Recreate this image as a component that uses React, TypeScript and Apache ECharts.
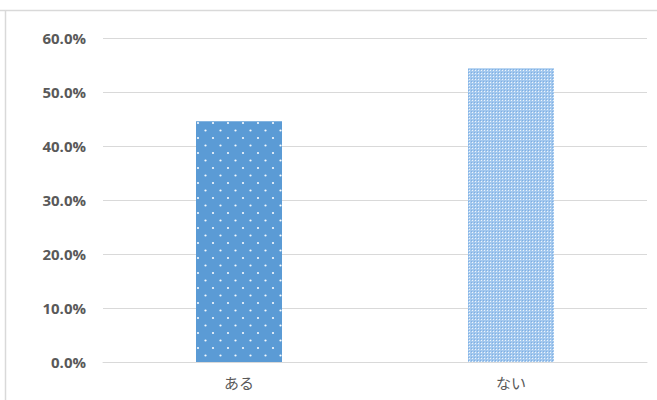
import React, { useEffect, useRef } from "react";
import * as echarts from "echarts";

const categories = ["ある", "ない"];
const values = [44.6, 54.4];
const yTicks = { min: 0, max: 60, interval: 10 };

function dotPattern(): HTMLCanvasElement {
  const c = document.createElement("canvas");
  c.width = 15;
  c.height = 15;
  const ctx = c.getContext("2d")!;
  ctx.fillStyle = "#5b9bd5";
  ctx.fillRect(0, 0, 15, 15);
  ctx.fillStyle = "rgba(255,255,255,0.95)";
  ctx.beginPath();
  ctx.arc(3, 3, 1.1, 0, Math.PI * 2);
  ctx.fill();
  ctx.beginPath();
  ctx.arc(10.5, 10.5, 1.1, 0, Math.PI * 2);
  ctx.fill();
  return c;
}

function checkPattern(): HTMLCanvasElement {
  const c = document.createElement("canvas");
  c.width = 3;
  c.height = 3;
  const ctx = c.getContext("2d")!;
  ctx.fillStyle = "#a3c8ee";
  ctx.fillRect(0, 0, 3, 3);
  ctx.fillStyle = "#7fb0e4";
  ctx.fillRect(0, 0, 1, 1);
  ctx.fillStyle = "#eef5fc";
  ctx.fillRect(1, 1, 1, 1);
  return c;
}

export default function App() {
  const ref = useRef<HTMLDivElement>(null);

  useEffect(() => {
    if (!ref.current) return;
    const chart = echarts.init(ref.current, undefined, { renderer: "svg" });
    const fills = [dotPattern(), checkPattern()];
    chart.setOption({
      animation: false,
      grid: { left: 103, right: 10, top: 38, bottom: 38, containLabel: false },
      graphic: [
        {
          type: "line",
          shape: { x1: 0, y1: 10.5, x2: 657, y2: 10.5 },
          style: { stroke: "#d9d9d9", lineWidth: 1.5 },
        },
        {
          type: "line",
          shape: { x1: 5.5, y1: 10.5, x2: 5.5, y2: 400 },
          style: { stroke: "#d9d9d9", lineWidth: 1.5 },
        },
      ],
      xAxis: {
        type: "category",
        data: categories,
        axisLine: { lineStyle: { color: "#d9d9d9", width: 1 } },
        axisTick: { show: false },
        axisLabel: {
          color: "#595959",
          fontSize: 15,
          fontFamily: "Noto Sans CJK JP",
          margin: 13,
        },
      },
      yAxis: {
        type: "value",
        min: yTicks.min,
        max: yTicks.max,
        interval: yTicks.interval,
        axisLine: { show: false },
        axisTick: { show: false },
        splitLine: { lineStyle: { color: "#d9d9d9", width: 1 } },
        axisLabel: {
          color: "#595959",
          fontSize: 15,
          fontWeight: "bold",
          fontFamily: "Open Sans",
          margin: 17,
          formatter: (v: number) => v.toFixed(1) + "%",
        },
      },
      series: [
        {
          type: "bar",
          barWidth: 86,
          data: values.map((v, i) => ({
            value: v,
            itemStyle: { color: { image: fills[i], repeat: "repeat" } },
          })),
        },
      ],
    });
    return () => chart.dispose();
  }, []);

  return (
    <div
      ref={ref}
      style={{ position: "absolute", left: 0, top: 0, width: 657, height: 400, background: "#fff" }}
    />
  );
}
